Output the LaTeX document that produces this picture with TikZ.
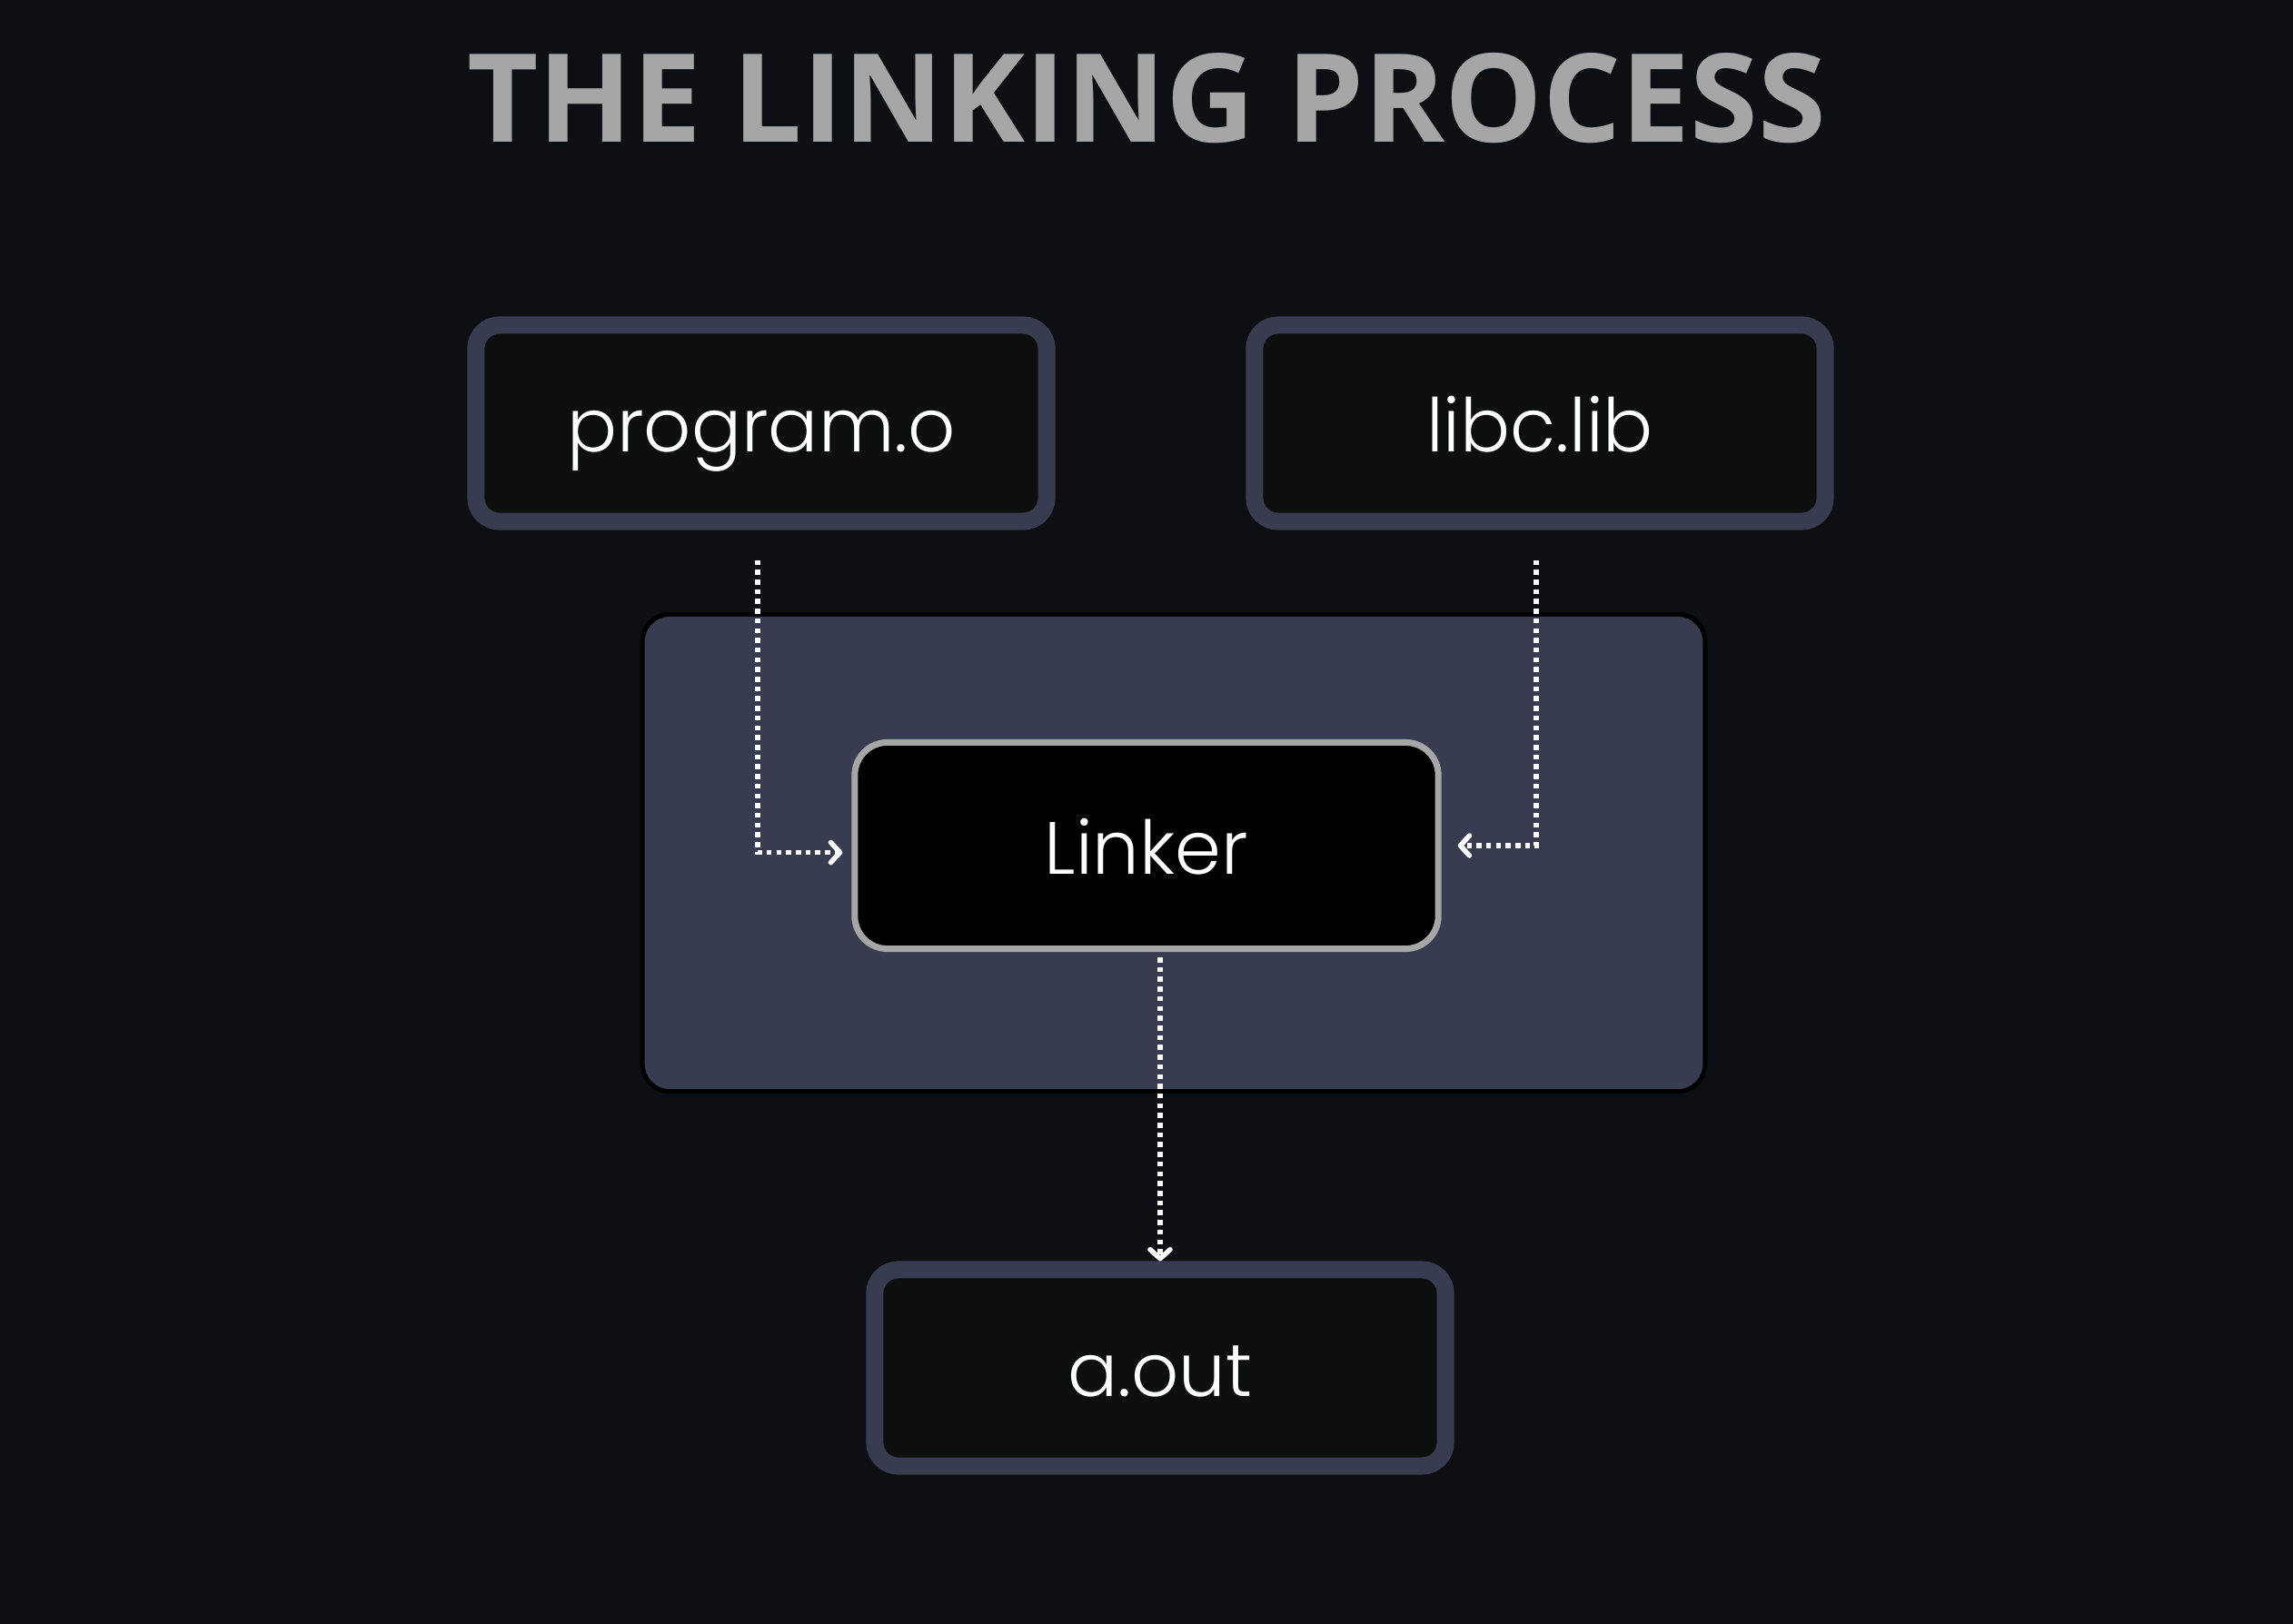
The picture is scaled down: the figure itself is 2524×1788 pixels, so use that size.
\documentclass[tikz,border=0pt]{standalone}
\usepackage{fontspec}
\setmainfont{Poppins}[UprightFont=* Light]
\newfontfamily\headfont{Open Sans}
\usetikzlibrary{arrows.meta}

\definecolor{pagebg}{RGB}{14,15,19}
\definecolor{boxrim}{RGB}{55,60,81}
\definecolor{boxfill}{RGB}{13,15,15}
\definecolor{linkrim}{RGB}{166,166,166}
\definecolor{headgray}{RGB}{166,166,166}

\begin{document}
\begin{tikzpicture}[x=0.01cm, y=-0.01cm,
  filebox/.style={draw=boxrim, fill=boxfill, line width=0.19cm, rounded corners=0.26cm,
    minimum width=6.28cm, minimum height=2.16cm, inner sep=0pt, text=white,
    text height=0.62cm, text depth=0cm, font=\fontsize{23.2}{24}\selectfont},
  linkbox/.style={filebox, draw=linkrim, fill=black, line width=0.07cm,
    rounded corners=0.36cm, minimum width=6.42cm, minimum height=2.27cm},
  stage/.style={draw=black, fill=boxrim, line width=0.05cm, rounded corners=0.3cm,
    minimum width=11.69cm, minimum height=5.25cm, inner sep=0pt},
  flow/.style={draw=white, line width=0.055cm, dash pattern=on 0.055cm off 0.052cm,
    -{Straight Barb[length=0.1cm, width=0.22cm, line width=0.055cm, round]}}]
  \fill[pagebg] (0,0) rectangle (2524,1788);

  \node[font=\headfont\bfseries\fontsize{38.5}{39}\selectfont, text=headgray, anchor=base]
    (title) at (1262,157) {THE LINKING PROCESS};

  \node[stage] (linkstage) at (1292,939) {};

  \node[filebox] (prog) at (838,466) {program.o};
  \node[filebox] (libc) at (1695,466) {libc.lib};
  \node[linkbox] (linker) at (1262,931) {Linker};
  \node[filebox] (aout) at (1277,1506) {a.out};

  % inputs into the linker, output below
  \draw[flow, shorten >=0.1cm] ([xshift=-0.04cm, yshift=-0.33cm]prog.south)
    |- ([yshift=-0.075cm]linker.west);
  \draw[flow, shorten >=0.18cm] ([xshift=-0.04cm, yshift=-0.33cm]libc.south) |- (linker.east);
  \draw[flow, shorten <=0.06cm, shorten >=0cm] (linker.south -| aout.north) -- (aout.north);
\end{tikzpicture}
\end{document}
